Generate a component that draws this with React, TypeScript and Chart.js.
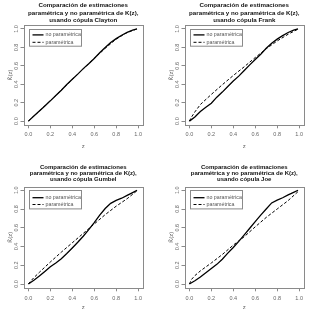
import React, { useEffect, useRef } from 'react';
import { Chart, registerables } from 'chart.js';

Chart.register(...registerables);

// ---------- data ----------
const zNP = [0, 0.05, 0.1, 0.15, 0.2, 0.25, 0.3, 0.35, 0.4, 0.45, 0.5, 0.55, 0.6, 0.65, 0.7, 0.75, 0.8, 0.85, 0.9, 0.95, 0.99];
const zP = [0, 0.02, 0.05, 0.1, 0.2, 0.3, 0.4, 0.5, 0.6, 0.7, 0.8, 0.9, 0.99];

const claytonNP = [0, 0.055, 0.11, 0.165, 0.22, 0.278, 0.335, 0.398, 0.455, 0.51, 0.57, 0.622, 0.68, 0.742, 0.8, 0.853, 0.895, 0.932, 0.963, 0.988, 1.0];
const claytonP = [0, 0.022, 0.055, 0.11, 0.222, 0.337, 0.452, 0.567, 0.68, 0.79, 0.89, 0.962, 1.0];

const frankNP = [0, 0.045, 0.105, 0.15, 0.195, 0.26, 0.315, 0.375, 0.435, 0.488, 0.55, 0.61, 0.668, 0.725, 0.79, 0.845, 0.89, 0.928, 0.962, 0.988, 1.0];
const frankP = [0, 0.045, 0.1, 0.18, 0.29, 0.395, 0.495, 0.59, 0.69, 0.785, 0.87, 0.943, 0.998];

const gumbelNP = [0, 0.04, 0.085, 0.135, 0.185, 0.225, 0.27, 0.325, 0.385, 0.445, 0.51, 0.58, 0.655, 0.735, 0.805, 0.86, 0.892, 0.915, 0.945, 0.975, 1.0];
const gumbelP = [0, 0.03, 0.068, 0.125, 0.235, 0.34, 0.44, 0.54, 0.64, 0.74, 0.83, 0.91, 0.995];

const joeNP = [0, 0.035, 0.075, 0.12, 0.165, 0.21, 0.265, 0.33, 0.39, 0.455, 0.525, 0.595, 0.665, 0.735, 0.8, 0.865, 0.895, 0.92, 0.95, 0.978, 1.0];
const joeP = [0, 0.05, 0.09, 0.14, 0.225, 0.315, 0.415, 0.505, 0.61, 0.71, 0.8, 0.89, 0.985];

const tickValues = [0, 0.2, 0.4, 0.6, 0.8, 1.0];
const titleLines = ['Comparación de estimaciones', 'paramétrica y no paramétrica de K(z),'];
const legendLabels = ['no paramétrica', 'paramétrica'];
const xTitle = 'z';
const yTitle = 'K\u0302(z)';

const FONT = '"Liberation Sans", Arial, Helvetica, sans-serif';
const AXIS_GRAY = '#8a8a8a';
const LABEL_GRAY = '#666';

type Layout = {
  w: number;
  h: number;
  left: number;
  right: number;
  top: number;
  bottom: number;
  titleY: number[];
  titleSize: number;
  tickPad: number;
  xTitlePad: number;
  legendH: number;
  legendRows: number[];
};

const topLayout: Layout = {
  w: 161, h: 157, left: 24, right: 142.5, top: 25.3, bottom: 124.8,
  titleY: [5.7, 13.3, 20.6], titleSize: 6.2, tickPad: 2.9, xTitlePad: 7.4,
  legendH: 16.7, legendRows: [5.4, 12.8],
};
const bottomLayout: Layout = {
  w: 161, h: 158, left: 24, right: 142.5, top: 29.5, bottom: 130.8,
  titleY: [10, 16, 22], titleSize: 6.0, tickPad: 3.4, xTitlePad: 3.7,
  legendH: 18.4, legendRows: [7.2, 14],
};

type PanelProps = { px: number; py: number; layout: Layout; name: string; np: number[]; p: number[] };

function Panel({ px, py, layout, name, np, p }: PanelProps) {
  const ref = useRef<HTMLCanvasElement | null>(null);
  useEffect(() => {
    const canvas = ref.current;
    if (!canvas) return;
    const L = layout;

    const framePlugin = {
      id: 'frame',
      beforeDatasetsDraw(chart: any) {
        const { ctx, chartArea: a } = chart;
        ctx.save();
        ctx.strokeStyle = AXIS_GRAY;
        ctx.lineWidth = 1;
        const l = Math.round(a.left) + 0.5;
        const t = Math.round(a.top) + 0.5;
        ctx.strokeRect(l, t, Math.round(a.right) - Math.round(a.left), Math.round(a.bottom) - Math.round(a.top));
        ctx.restore();
      },
    };

    const titlePlugin = {
      id: 'panelTitle',
      afterDraw(chart: any) {
        const { ctx, chartArea: a } = chart;
        const cx = (a.left + a.right) / 2;
        const lines = [...titleLines, 'usando cópula ' + name];
        ctx.save();
        ctx.fillStyle = '#111';
        ctx.font = `bold ${L.titleSize}px ${FONT}`;
        ctx.textAlign = 'center';
        ctx.textBaseline = 'middle';
        lines.forEach((s, i) => ctx.fillText(s, cx, L.titleY[i]));
        ctx.restore();
      },
    };

    const legendPlugin = {
      id: 'panelLegend',
      afterDatasetsDraw(chart: any) {
        const { ctx } = chart;
        const x0 = Math.round(chart.scales.x.getPixelForValue(0)) + 1.5;
        const y0 = Math.round(chart.scales.y.getPixelForValue(1)) + 0.5;
        const bw = 52;
        ctx.save();
        ctx.fillStyle = '#fff';
        ctx.fillRect(x0, y0, bw, L.legendH);
        ctx.strokeStyle = AXIS_GRAY;
        ctx.lineWidth = 1;
        ctx.strokeRect(x0, y0, bw, L.legendH);
        chart.data.datasets.forEach((ds: any, i: number) => {
          const yy = y0 + L.legendRows[i];
          ctx.beginPath();
          ctx.strokeStyle = '#000';
          ctx.lineWidth = ds.borderWidth;
          ctx.setLineDash(ds.borderDash || []);
          ctx.moveTo(x0 + 3, yy);
          ctx.lineTo(x0 + 14, yy);
          ctx.stroke();
          ctx.setLineDash([]);
          ctx.fillStyle = '#555';
          ctx.font = `5.3px ${FONT}`;
          ctx.textAlign = 'left';
          ctx.textBaseline = 'middle';
          ctx.fillText(ds.label, x0 + 16, yy);
        });
        ctx.restore();
      },
    };

    const chart = new Chart(canvas, {
      type: 'scatter',
      data: {
        datasets: [
          {
            label: legendLabels[0],
            data: zNP.map((z, i) => ({ x: z, y: np[i] })),
            showLine: true,
            borderColor: '#000',
            backgroundColor: '#000',
            borderWidth: 1.3,
            pointRadius: 0,
            tension: 0,
          },
          {
            label: legendLabels[1],
            data: zP.map((z, i) => ({ x: z, y: p[i] })),
            showLine: true,
            borderColor: '#000',
            backgroundColor: '#000',
            borderWidth: 1,
            borderDash: [3, 2],
            pointRadius: 0,
            tension: 0,
          },
        ],
      },
      options: {
        animation: false,
        responsive: false,
        devicePixelRatio: 1,
        events: [],
        layout: { padding: { left: 0, top: L.top, right: L.w - L.right, bottom: 0 } },
        plugins: {
          legend: { display: false },
          tooltip: { enabled: false },
          title: { display: false },
        },
        scales: {
          x: {
            type: 'linear',
            min: -0.04,
            max: 1.04,
            afterBuildTicks: (s: any) => {
              s.ticks = tickValues.map((v) => ({ value: v }));
            },
            afterFit: (s: any) => {
              s.height = L.h - L.bottom;
            },
            grid: { drawOnChartArea: false, drawTicks: true, tickLength: 3.5, color: AXIS_GRAY, tickColor: AXIS_GRAY },
            border: { display: false },
            ticks: {
              padding: L.tickPad,
              autoSkip: false,
              maxRotation: 0,
              minRotation: 0,
              color: LABEL_GRAY,
              font: { family: FONT, size: 5.5 },
              callback: (v: any) => Number(v).toFixed(1),
            },
            title: {
              display: true,
              text: xTitle,
              color: LABEL_GRAY,
              font: { family: FONT, size: 6 },
              padding: { top: 0, bottom: L.xTitlePad },
            },
          },
          y: {
            type: 'linear',
            min: -0.04,
            max: 1.04,
            afterBuildTicks: (s: any) => {
              s.ticks = tickValues.map((v) => ({ value: v }));
            },
            afterFit: (s: any) => {
              s.width = L.left;
            },
            grid: { drawOnChartArea: false, drawTicks: true, tickLength: 3.5, color: AXIS_GRAY, tickColor: AXIS_GRAY },
            border: { display: false },
            ticks: {
              padding: 0,
              autoSkip: false,
              minRotation: 90,
              maxRotation: 90,
              crossAlign: 'center',
              color: LABEL_GRAY,
              font: { family: FONT, size: 5.5 },
              callback: (v: any) => Number(v).toFixed(1),
            },
            title: {
              display: true,
              text: yTitle,
              color: LABEL_GRAY,
              font: { family: FONT, size: 6 },
              padding: { top: 6.4, bottom: 0 },
            },
          },
        },
      } as any,
      plugins: [framePlugin, legendPlugin, titlePlugin],
    });
    return () => chart.destroy();
  }, [layout, name, np, p]);

  return (
    <div style={{ position: 'absolute', left: px, top: py, width: layout.w, height: layout.h }}>
      <canvas ref={ref} width={layout.w} height={layout.h} style={{ width: layout.w, height: layout.h, display: 'block' }} />
    </div>
  );
}

export default function App() {
  return (
    <div style={{ position: 'absolute', left: 0, top: 0, width: 322, height: 315, background: '#fff', overflow: 'hidden' }}>
      <Panel px={0} py={0} layout={topLayout} name="Clayton" np={claytonNP} p={claytonP} />
      <Panel px={161} py={0} layout={topLayout} name="Frank" np={frankNP} p={frankP} />
      <Panel px={0} py={157} layout={bottomLayout} name="Gumbel" np={gumbelNP} p={gumbelP} />
      <Panel px={161} py={157} layout={bottomLayout} name="Joe" np={joeNP} p={joeP} />
    </div>
  );
}
